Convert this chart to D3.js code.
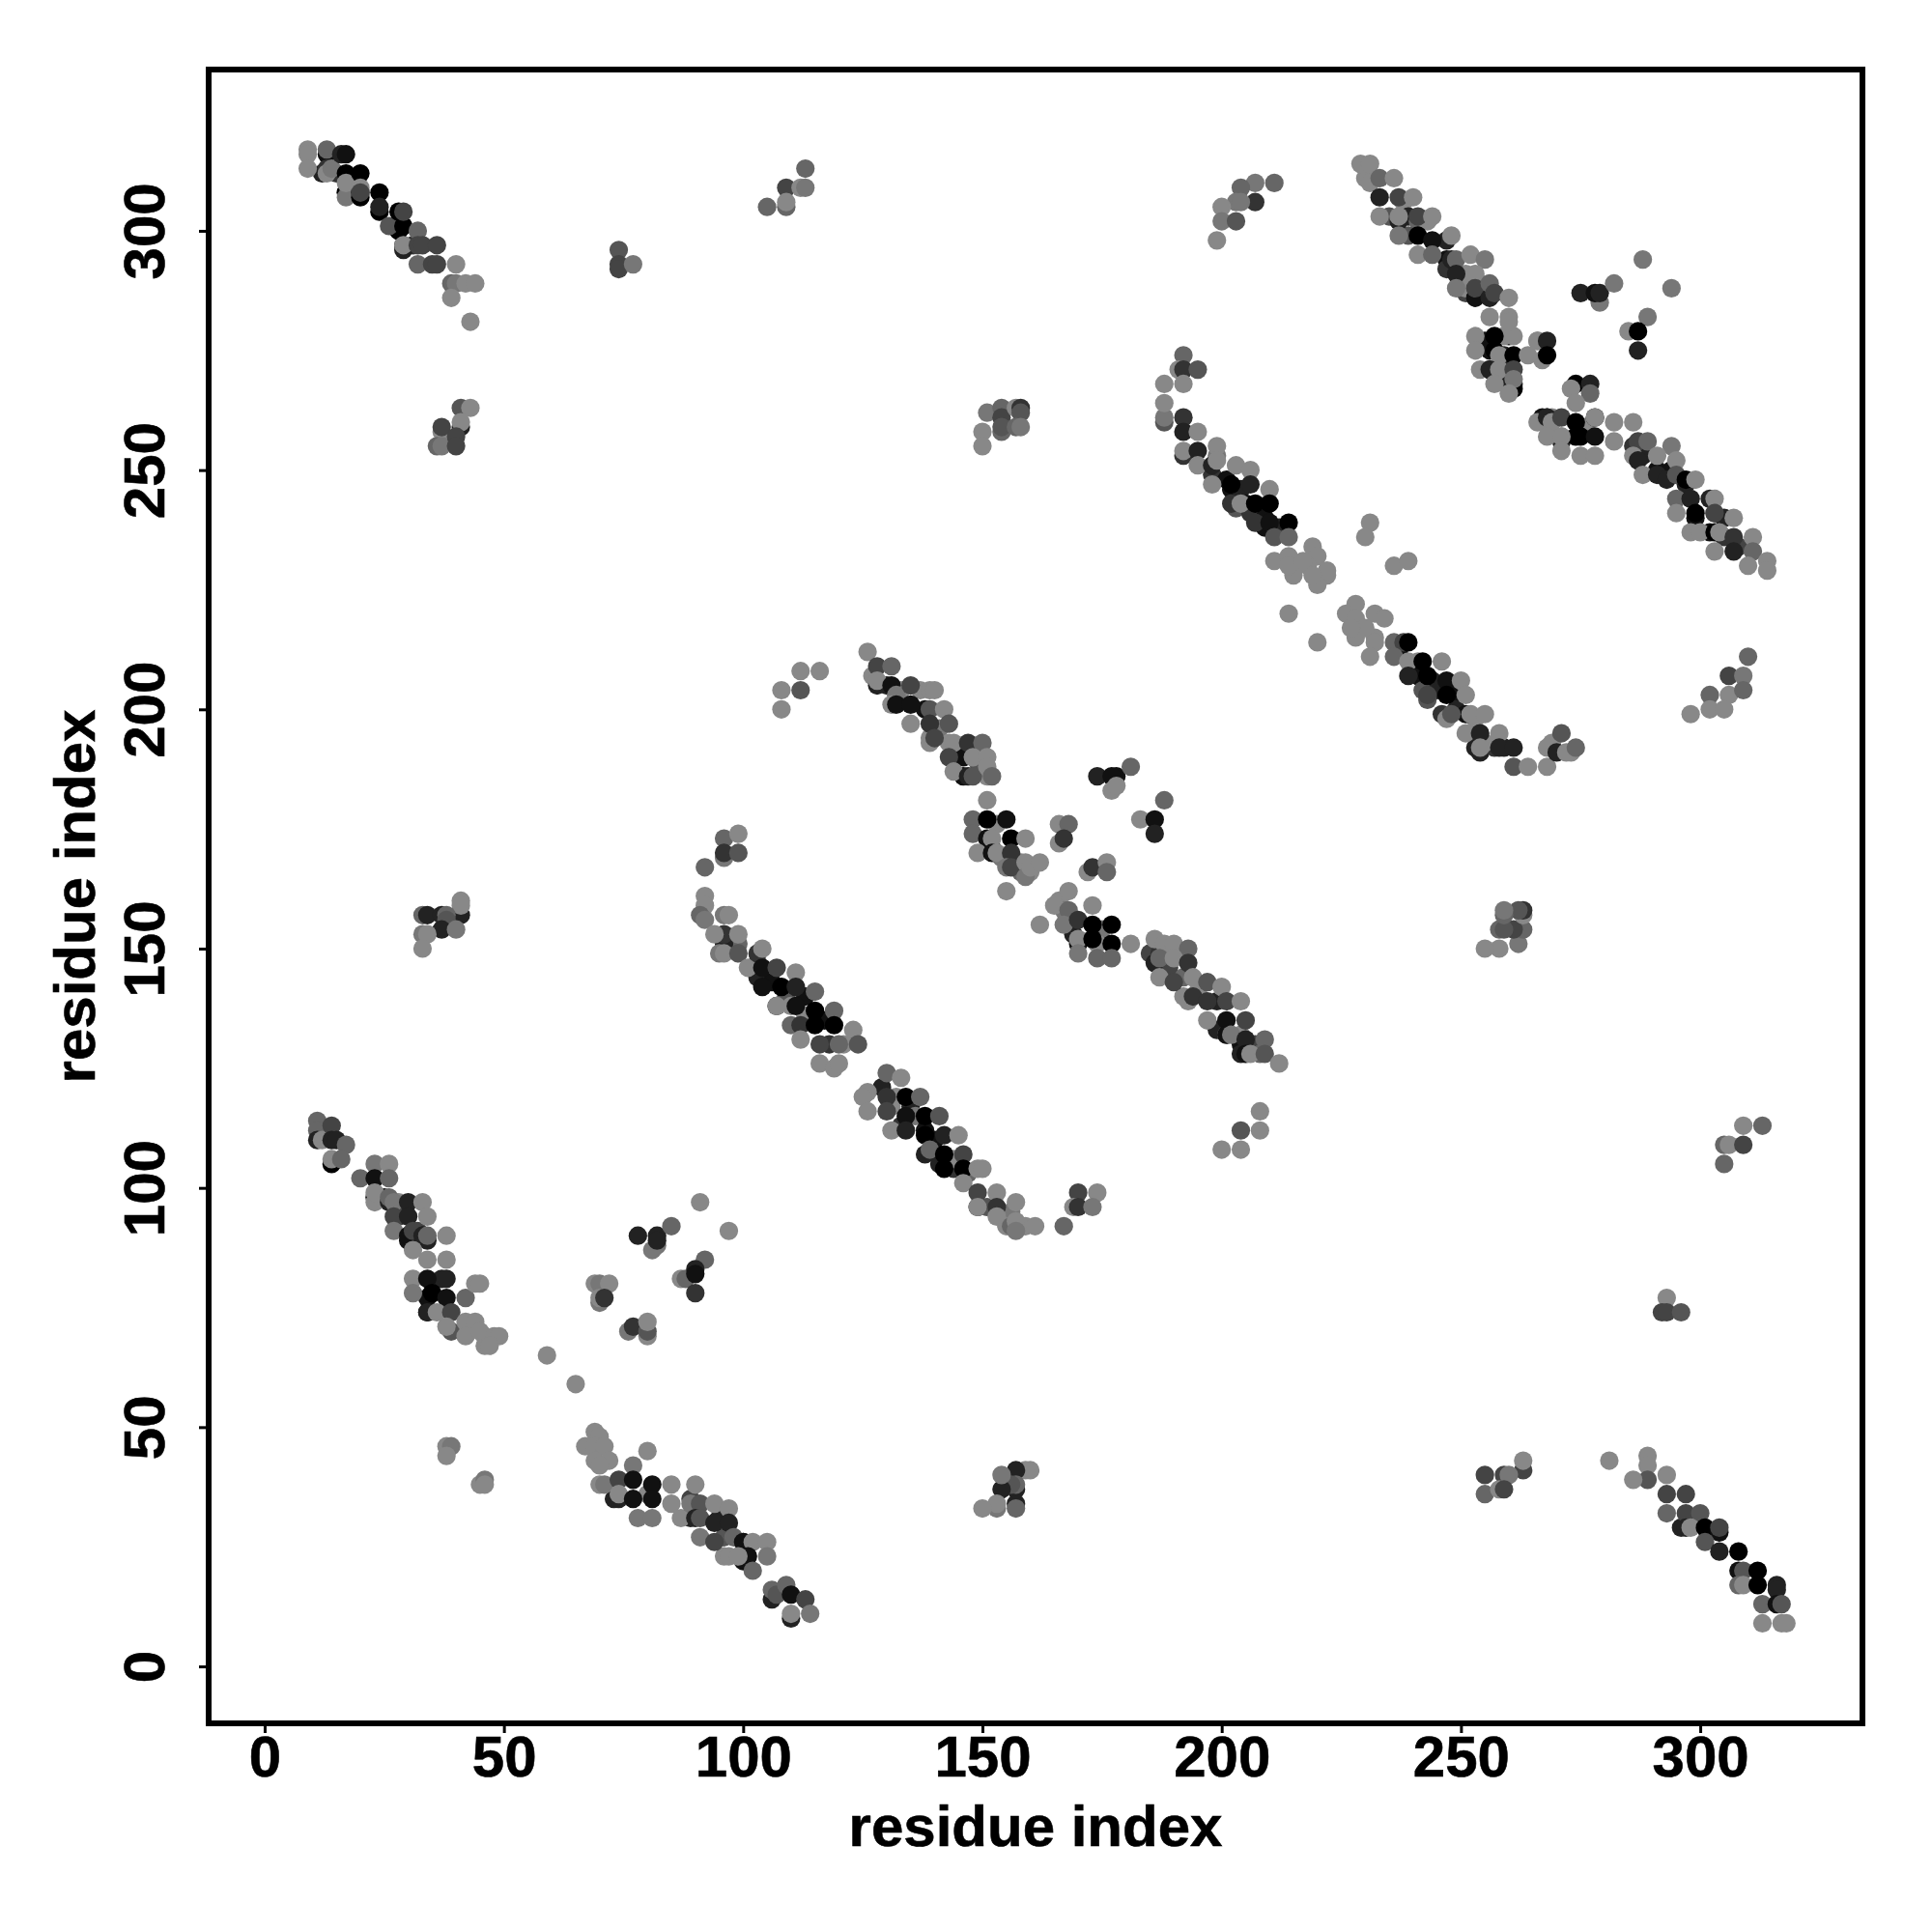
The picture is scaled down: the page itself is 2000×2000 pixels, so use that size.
<!DOCTYPE html>
<html><head><meta charset="utf-8">
<script src="https://cdn.jsdelivr.net/npm/d3@7"></script>
<style>html,body{margin:0;padding:0;background:#fff}svg{display:block}</style>
</head><body><div id="chart"></div>
<script>
// Each contact: [residue x, residue y, shade level 0 (black) .. 8 (light grey)]
const blockUnderBands = [[103,147,3],[103,144,2],[106,143,1],[107,138,2],[109,140,5],[110,138,8],[113,140,1],[113,136,8],[110,134,6],[117,135,1],[118,130,3],[121,130,8],[99,151,6],[96,151,2],[95,149,7],[129,121,2],[132,119,8],[131,117,8],[133,113,3],[135,117,2],[136,115,7],[138,112,1],[140,110,1],[138,107,2],[141,105,2],[144,104,3],[144,106,8],[147,103,6],[151,96,5],[149,96,2],[156,95,7],[159,92,8],[155,92,8],[185,149,4],[187,149,3],[189,146,4],[192,144,6],[192,140,8],[195,141,8],[199,139,2],[199,133,2],[201,132,8],[204,132,8],[204,130,1],[207,130,4],[204,128,2],[208,128,6],[127,207,8],[130,205,2],[133,204,8],[132,203,7],[138,200,1],[137,204,8],[141,196,7],[139,194,8],[146,190,1],[146,186,1],[143,193,8],[149,189,5],[151,186,8],[153,176,8],[152,171,1],[154,169,7],[158,168,7],[158,166,6],[160,166,8],[166,160,8],[167,158,7],[175,154,7],[169,153,2],[174,151,8],[198,249,3],[201,248,1],[202,246,1],[204,246,2],[205,243,1],[203,242,5],[206,241,3],[209,240,1],[209,238,1],[212,238,2],[237,212,1],[241,210,8],[241,207,1],[244,206,2],[242,204,5],[245,204,2],[249,203,1],[249,200,2],[246,199,3],[253,198,8],[253,192,2],[254,191,2],[257,192,3],[259,192,2],[255,193,8],[269,193,8],[273,191,8],[286,255,3],[287,254,3],[288,253,2],[291,250,1],[294,250,1],[297,247,2],[302,244,2],[299,240,1],[303,241,5],[305,240,2],[302,237,1],[305,236,3],[308,234,4],[298,237,8],[230,311,8],[235,303,5],[238,306,8],[239,303,2],[241,302,6],[243,302,8],[239,299,5],[247,298,2],[247,294,1],[247,292,3],[251,291,8],[251,287,4],[254,289,8],[251,288,8],[255,277,1],[256,275,1],[259,274,2],[256,271,1],[260,268,2],[260,278,1],[259,278,8],[266,277,7],[267,261,1],[268,261,2],[269,261,8],[271,257,8],[271,256,2],[274,257,0],[276,259,8],[278,261,1],[25,98,1],[28,97,8],[28,94,4],[32,91,4],[30,89,1],[33,90,1],[34,89,2],[37,81,2],[35,78,1],[34,74,0],[34,77,1],[73,35,2],[80,36,8],[89,35,4],[89,31,2],[95,31,2],[96,27,5],[100,26,2],[96,23,8],[100,22,1],[70,38,8],[296,29,2],[12,312,2],[15,312,3],[17,308,2],[27,301,4],[28,300,0],[31,297,3],[29,296,2]];
const blockTopLeft = [[9,317,8],[9,316,8],[9,313,8],[13,316,1],[13,317,6],[13,313,3],[13,312,8],[14,313,7],[16,316,2],[17,316,1],[17,312,0],[17,308,0],[17,307,7],[17,310,8],[20,308,0],[20,307,0],[20,312,0],[20,309,8],[20,308,4],[24,308,0],[24,304,0],[24,305,2],[26,301,5],[28,304,0],[29,297,1],[29,301,0],[29,297,8],[29,304,4],[32,300,6],[32,297,4],[33,297,4],[32,293,6],[35,293,4],[36,297,4],[36,293,4],[40,293,8],[39,289,6],[40,289,7],[42,289,8],[44,289,8],[39,286,8],[43,281,8]];
const blockUpperA = [[41,263,5],[43,263,8],[37,258,8],[37,259,4],[41,259,2],[41,260,8],[36,255,6],[37,255,7],[40,257,4],[40,255,4],[74,296,5],[74,293,4],[74,292,4],[77,293,7],[105,305,6],[109,305,6],[109,309,4],[109,306,8],[113,313,6],[112,309,8],[113,309,7]];
const blockLeftLow = [[11,114,6],[11,112,6],[11,110,2],[12,110,8],[14,113,4],[14,110,2],[15,110,2],[17,109,6],[14,105,0],[14,106,8],[16,106,6],[23,105,7],[26,105,8],[20,102,6],[23,102,1],[26,102,6],[23,98,0],[23,97,8],[23,99,8],[26,97,2],[26,98,6],[27,97,7],[30,97,2],[33,97,8],[27,94,4],[30,94,2],[34,94,8],[27,91,7],[30,90,1],[31,91,4],[33,90,2],[34,90,6],[38,90,8],[31,87,8],[34,85,8],[38,85,8],[31,81,8],[31,78,7],[34,81,1],[38,81,2],[35,78,0],[38,77,1],[42,77,6],[44,80,8],[45,80,8],[34,74,2],[36,74,8],[39,74,4],[39,70,5],[38,71,8],[42,72,8],[44,72,8],[42,69,8],[46,69,8],[45,70,8],[46,67,8],[48,69,8],[49,69,8],[47,67,8],[59,65,8],[65,59,8]];
const blockCrossLow = [[91,97,8],[97,91,8],[78,90,2],[82,88,7],[81,87,7],[82,90,2],[82,89,2],[85,92,6],[92,85,6],[87,81,8],[88,81,6],[90,83,2],[90,82,1],[90,78,3],[69,80,8],[70,80,7],[72,80,8],[70,76,7],[70,77,8],[71,77,3],[76,70,7],[77,71,3],[80,69,8],[80,70,5],[80,72,8],[38,46,8],[39,46,7],[38,44,8],[45,38,8],[46,39,7],[46,38,8]];
const blockLowerMid = [[69,49,8],[70,48,8],[67,46,8],[69,46,8],[71,46,8],[69,43,8],[72,43,8],[70,42,8],[80,45,8],[77,42,7],[71,38,7],[74,39,4],[77,39,1],[81,38,1],[74,35,2],[74,36,8],[77,35,1],[81,35,1],[78,31,7],[81,31,7],[85,38,8],[85,34,8],[87,31,8],[90,38,8],[89,34,7],[91,34,5],[94,34,8],[97,33,8],[90,31,2],[91,31,5],[94,30,2],[97,30,2],[91,27,7],[94,26,4],[98,27,6],[100,26,1],[102,26,8],[105,26,8],[97,23,8],[101,23,1],[99,23,8],[105,23,7],[102,20,6],[106,14,2],[106,16,6],[107,15,5],[109,17,6],[110,15,1],[113,14,4],[110,10,2],[110,11,8],[114,11,7]];
const blockCentreUp = [[126,212,8],[128,209,4],[131,209,6],[128,205,2],[128,206,8],[131,205,1],[132,203,7],[135,205,4],[139,204,8],[140,204,8],[131,201,8],[132,201,1],[135,201,1],[135,197,8],[139,200,5],[142,200,8],[139,197,3],[143,197,5],[139,193,8],[140,194,4],[144,193,8],[147,193,3],[150,193,6],[143,190,4],[148,190,8],[151,190,8],[144,187,8],[147,186,2],[148,186,5],[151,188,8],[152,186,6],[151,181,8],[148,177,6],[151,177,0],[155,177,1],[148,174,6],[151,173,1],[152,173,8],[156,173,0],[159,173,8],[149,170,8],[152,170,1],[153,170,8],[156,170,3],[155,167,7],[156,167,4],[159,168,8],[159,165,7],[160,167,8],[162,168,8],[155,162,8]];
const blockCentreCross = [[166,176,8],[168,176,6],[166,172,8],[167,173,3],[172,166,8],[173,167,3],[176,168,8],[176,166,6],[174,186,2],[178,186,1],[177,186,1],[181,188,6],[177,183,8],[178,184,8],[188,181,6],[183,177,8],[186,177,1],[186,174,2],[168,162,8],[165,159,8],[168,158,6],[173,159,8],[167,155,7],[170,156,3],[173,155,0],[177,155,0],[162,155,8],[170,151,1],[170,152,8],[173,152,0],[177,151,0],[170,149,7],[174,148,6],[177,148,6],[181,151,8]];
const blockCentreRight = [[186,152,8],[188,151,8],[190,151,8],[193,150,6],[186,147,2],[187,148,6],[190,148,8],[193,147,3],[187,144,8],[190,143,4],[194,144,8],[197,143,5],[200,142,8],[193,139,8],[194,140,3],[197,139,3],[201,139,4],[204,139,8],[197,135,8],[201,135,1],[205,135,4],[201,132,1],[202,132,7],[205,131,2],[209,131,6],[205,128,1],[206,128,8],[209,128,5],[212,126,8],[208,116,8],[204,112,5],[208,112,8],[200,108,8],[204,108,8]];
const blockCentreLeft = [[96,173,6],[99,174,8],[96,169,7],[96,170,3],[99,170,5],[92,167,6],[92,161,8],[92,159,8],[91,157,6],[92,156,7],[96,157,7],[97,157,8],[96,153,3],[94,153,8],[99,153,8],[96,149,8],[99,149,5],[101,146,8],[103,149,3],[104,150,8],[104,146,1],[107,146,4],[104,142,1],[108,142,0],[111,145,8],[111,142,2],[115,141,6],[107,138,8],[111,138,1],[115,137,0],[119,137,6],[112,134,3],[115,134,0],[119,134,0],[123,133,8],[112,131,8],[116,130,4],[120,130,6],[124,130,5],[116,126,8],[119,125,8],[120,126,8]];
const blockCentreLow = [[130,124,6],[133,123,8],[126,120,8],[125,119,8],[130,119,3],[134,119,0],[137,119,6],[126,116,8],[130,116,4],[134,115,1],[138,115,0],[141,115,5],[131,112,8],[134,112,2],[138,111,0],[142,111,2],[145,111,8],[139,108,6],[142,107,0],[146,107,4],[142,104,0],[146,104,0],[149,104,8],[150,104,8],[146,101,8],[149,99,4],[153,99,8],[149,96,8],[153,96,3],[153,94,8],[157,97,8],[156,92,6],[157,93,8],[157,91,7],[161,92,8],[167,92,6],[170,99,4],[174,99,8],[169,96,8],[170,96,3],[173,96,7]];
const blockUpperRight = [[192,274,6],[191,271,8],[192,271,3],[195,271,5],[188,268,8],[192,268,8],[188,260,5],[188,261,7],[188,264,8],[192,261,3],[192,258,2],[195,258,8],[192,253,3],[192,254,8],[195,254,2],[195,251,8],[199,253,7],[199,255,8],[198,251,2],[199,252,8],[203,251,8],[206,250,8],[198,247,8],[202,247,0],[206,247,2],[210,246,8],[202,243,3],[204,243,8],[207,243,0],[210,243,0],[207,239,3],[210,239,1],[214,239,0],[211,236,5],[214,236,6]];
const blockMidCluster = [[211,231,8],[214,232,8],[219,234,8],[220,232,8],[215,228,8],[218,230,8],[222,228,8],[220,226,8],[214,230,8],[217,231,8],[222,229,8],[219,228,8],[231,239,8],[230,236,8],[236,230,8],[239,231,8],[214,220,8],[220,214,8],[228,222,8],[226,220,8],[228,219,8],[232,220,8],[234,219,8],[228,215,8],[232,215,8],[230,217,8],[232,214,8],[231,211,8],[227,217,8]];
const blockMidRight = [[236,214,6],[238,214,4],[239,214,0],[236,211,6],[239,210,8],[242,210,0],[246,210,8],[239,207,2],[243,207,0],[247,206,1],[250,206,8],[243,202,5],[243,203,4],[247,203,0],[251,203,8],[251,199,1],[247,198,8],[248,199,5],[252,199,8],[255,199,8],[251,195,8],[254,195,2],[258,195,8],[254,192,8],[258,192,2],[261,192,2],[261,188,5],[264,188,8],[268,188,8],[268,192,8],[270,191,2],[272,191,8],[274,192,6],[271,195,5],[310,211,6],[306,207,4],[309,207,7],[306,203,8],[309,204,6],[302,203,6],[298,199,8],[302,200,8],[305,200,8]];
const blockKnot = [[253,278,8],[253,275,8],[257,278,0],[261,278,8],[257,275,0],[258,274,8],[254,271,8],[256,271,2],[258,271,8],[261,274,0],[264,274,8],[266,277,8],[268,277,2],[267,273,8],[268,274,0],[257,268,8],[261,271,4],[261,268,2],[261,267,0],[261,269,7],[260,266,8],[274,268,0],[277,268,2],[273,267,8],[277,266,6],[274,264,8],[266,260,8],[268,261,2],[269,260,8],[271,261,4],[274,260,0],[278,261,8],[282,260,8],[286,260,8],[268,257,8],[271,257,8],[275,257,0],[278,257,1],[282,256,8],[271,254,8],[275,253,8],[278,253,8]];
const blockRightDiag = [[287,256,4],[289,256,6],[294,255,7],[286,253,8],[287,252,2],[291,253,8],[295,252,8],[288,249,8],[291,249,2],[293,248,2],[295,249,5],[297,248,0],[299,248,8],[295,244,6],[295,241,8],[298,244,2],[299,241,0],[300,237,8],[303,244,8],[303,241,4],[307,240,8],[303,237,0],[304,237,8],[307,236,3],[311,236,8],[303,233,8],[307,233,2],[311,233,6],[310,230,8],[314,231,8],[314,229,8]];
const blockTopDiag = [[229,314,8],[231,314,8],[231,310,8],[233,311,6],[236,311,8],[233,307,2],[237,307,4],[240,307,8],[233,303,8],[237,302,2],[237,303,8],[241,303,4],[244,303,8],[237,299,7],[241,299,0],[244,298,1],[241,295,8],[244,295,6],[248,299,8],[248,294,2],[249,294,6],[252,295,8],[255,294,7],[249,291,2],[253,291,8],[249,288,7],[253,286,1],[253,288,4],[256,286,2],[256,289,6],[257,287,4],[260,286,8],[256,282,8],[260,282,8],[260,281,8],[275,287,2],[279,285,7],[278,287,1],[279,287,2],[282,289,7],[288,294,7],[294,288,7],[289,282,7],[285,279,8],[287,279,0],[287,275,2]];
const blockLowerRight = [[309,113,8],[313,113,6],[305,109,6],[306,109,8],[309,109,4],[305,105,6],[293,77,8],[292,74,4],[293,74,4],[296,74,5],[255,40,4],[259,40,4],[263,41,4],[260,40,7],[263,43,8],[255,36,6],[258,37,8],[259,37,4],[281,43,8],[289,44,8],[289,42,8],[289,39,5],[286,39,8],[293,40,8],[293,36,4],[297,36,4],[293,32,6],[297,32,4],[300,32,5],[297,29,2],[298,29,8],[301,29,0],[304,28,1],[304,29,4],[301,26,5],[304,24,2],[308,24,0],[308,20,1],[309,20,5],[308,17,6],[309,17,8],[312,20,0],[312,17,0],[316,17,2],[316,16,2],[313,13,6],[316,13,1],[317,13,5],[313,9,8],[317,9,8],[318,9,8]];
const blockSmall = [[41,160,8],[41,157,2],[41,159,8],[33,157,6],[34,157,2],[37,157,2],[38,157,6],[38,156,5],[37,154,2],[40,154,7],[33,153,7],[34,153,8],[33,150,8],[160,41,8],[159,41,8],[157,41,2],[157,34,2],[157,33,6],[157,37,2],[157,38,6],[156,38,5],[154,37,2],[154,40,7],[153,33,7],[153,34,8],[150,33,8],[112,208,8],[116,208,8],[108,204,8],[112,204,5],[108,200,8],[151,262,7],[154,263,6],[154,261,4],[157,263,8],[158,263,3],[158,262,5],[150,258,8],[154,258,6],[154,259,5],[157,259,6],[158,259,7],[150,255,8],[262,151,7],[263,154,6],[261,154,4],[263,157,8],[263,158,3],[262,158,5],[258,150,8],[258,154,6],[259,154,5],[259,157,6],[259,158,7],[255,150,8],[211,310,6],[207,310,7],[204,309,6],[207,306,3],[203,306,7],[204,306,7],[200,305,8],[200,302,7],[203,302,5],[199,298,8]];

const contactBlocks = [blockUnderBands,blockTopLeft,blockUpperA,blockLeftLow,blockCrossLow,blockLowerMid,blockCentreUp,blockCentreCross,blockCentreRight,blockCentreLeft,blockCentreLow,blockUpperRight,blockMidCluster,blockMidRight,blockKnot,blockRightDiag,blockTopDiag,blockLowerRight,blockSmall];
const xTicks = [0,50,100,150,200,250,300];
const yTicks = [0,50,100,150,200,250,300];
const xTitle = "residue index", yTitle = "residue index";

const W = 2000, H = 2000, L = 216, R = 1928, T = 72, B = 1784;
const FONT = '"Liberation Sans", Arial, Helvetica, sans-serif';
const svg = d3.select("#chart").append("svg").attr("width",W).attr("height",H).attr("viewBox",`0 0 ${W} ${H}`);
svg.append("rect").attr("width",W).attr("height",H).attr("fill","#fff");

const x = d3.scaleLinear().domain([-11.7,333.9]).range([L,R]);
const y = d3.scaleLinear().domain([-11.9,333.7]).range([B,T]);
const shade = d3.scaleLinear().domain([0,8]).range(["#000000","#888888"]);

svg.append("g").selectAll("circle").data(contactBlocks.flat()).join("circle")
  .attr("cx",d=>x(d[0])).attr("cy",d=>y(d[1])).attr("r",9.6).attr("fill",d=>shade(d[2]));

const gx = svg.append("g").attr("transform",`translate(0,${B})`)
  .call(d3.axisBottom(x).tickValues(xTicks).tickSize(10).tickPadding(0));
const gy = svg.append("g").attr("transform",`translate(${L},0)`)
  .call(d3.axisLeft(y).tickValues(yTicks).tickSize(10).tickPadding(0));
[gx,gy].forEach(g=>{ g.select(".domain").remove(); g.selectAll(".tick line").attr("stroke","#000").attr("stroke-width",3);
  g.selectAll("text").attr("fill","#000").attr("stroke","#000").attr("stroke-width",0.6).attr("font-family",FONT).attr("font-weight","bold").attr("font-size",60); });
gx.selectAll("text").attr("dy",null).attr("y",55).attr("text-anchor","middle");
gy.selectAll("text").attr("x",null).attr("dy",null).attr("text-anchor","middle")
  .attr("transform",`translate(-46,0) rotate(-90)`);

svg.append("rect").attr("x",L).attr("y",T).attr("width",R-L).attr("height",B-T)
  .attr("fill","none").attr("stroke","#000").attr("stroke-width",6);

svg.append("text").attr("x",(L+R)/2).attr("y",1911).attr("text-anchor","middle").attr("stroke","#000").attr("stroke-width",0.6)
  .attr("font-family",FONT).attr("font-weight","bold").attr("font-size",60).attr("fill","#000").text(xTitle);
svg.append("text").attr("transform",`translate(98,${(T+B)/2}) rotate(-90)`).attr("text-anchor","middle").attr("stroke","#000").attr("stroke-width",0.6)
  .attr("font-family",FONT).attr("font-weight","bold").attr("font-size",60).attr("fill","#000").text(yTitle);
</script></body></html>
